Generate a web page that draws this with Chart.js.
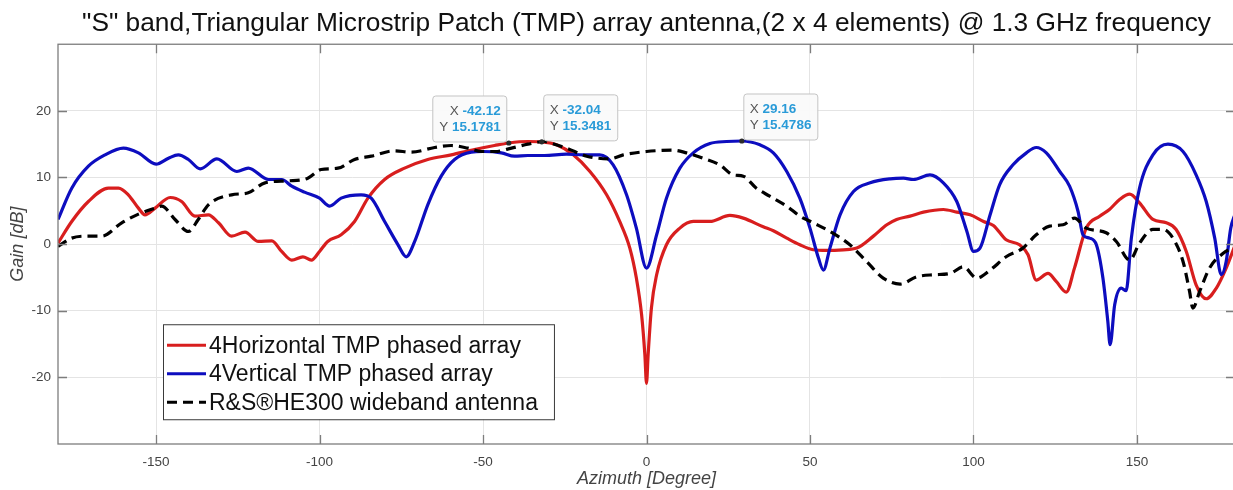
<!DOCTYPE html>
<html>
<head>
<meta charset="utf-8">
<script src="https://cdn.jsdelivr.net/npm/chart.js@4.4.1/dist/chart.umd.min.js"></script>
<style>
  html, body { margin: 0; padding: 0; background: #fff; overflow: hidden; }
  #wrap { width: 1240px; height: 490px; }
</style>
</head>
<body>
<div id="wrap"><canvas id="gain"></canvas></div>
<script>
// azimuth / gain, one pair of arrays per antenna
const hAz = [-180, -175.8, -170.7, -164.6, -161.5, -158.5, -155.4, -153.4, -150.3, -145.7, -142.2, -138.1, -134,
    -130.9, -126.9, -122.8, -118.7, -114.6, -111.6, -108.5, -105.1, -102.5, -100, -97.5, -93.4, -89.3, -85.2, -80.1,
    -74, -66.9, -59.7, -52.6, -46.5, -42.12, -36.3, -32.04, -27.5, -22.4, -17.3, -12.2, -8.2, -5.1, -3.1, -1.5, -0.5,
    0, 0.5, 1.5, 3.1, 6.1, 10.2, 14.3, 19.4, 25.5, 29.6, 35.7, 38.8, 42.9, 46.9, 51, 55.1, 60.2, 64.3, 69.4, 73.5,
    76.5, 80.6, 84.7, 90.8, 94.9, 99, 103.1, 106.1, 110, 114.1, 116.7, 119.2, 122.8, 125.3, 128.4, 130.9, 134.5,
    138.6, 141.6, 144.7, 147.8, 150.8, 154.9, 159, 162, 165.1, 168.1, 171.2, 174.3, 177.3, 180];
const hGain = [0.15, 3.4, 6.4, 8.4, 8.4, 7.4, 5.4, 4.4, 5.4, 7.0, 6.4, 4.2, 4.4,
    3.2, 1.2, 1.8, 0.4, 0.5, -1.1, -2.4, -1.9, -2.4, -1.1, 0.4, 1.4, 3.4, 6.9, 9.7,
    11.4, 12.7, 13.4, 14.2, 14.8, 15.18, 15.4, 15.35, 14.9, 13.4, 10.9, 7.4, 3.4, -0.6, -5.1, -10.6, -16.6,
    -20.9, -16.6, -9.6, -4.6, -0.1, 2.4, 3.4, 3.4, 4.3, 3.9, 2.6, 2.0, 0.9, -0.1, -0.85, -0.95, -0.85, -0.6, 1.2, 2.9,
    3.7, 4.2, 4.8, 5.2, 4.8, 4.4, 3.4, 2.8, 0.65, -0.1, -1.6, -5.4, -4.4, -5.6, -7.2, -3.6, 2.4,
    4.2, 5.2, 6.7, 7.5, 6.2, 3.7, 3.2, 2.2, -1.1, -6.1, -8.2, -6.6, -3.6, -0.2];

const vAz = [-180, -175.8, -170.7, -165.6, -160, -155.4, -150, -146.2, -143.2, -140.1, -136.5, -131.4, -125.3,
    -121.8, -115.6, -111.6, -108.5, -104.6, -100, -96.9, -93.4, -87.3, -84.2, -80.1, -76, -73.5, -70.9, -66.9,
    -62.8, -58.7, -53.6, -50, -44.4, -40.4, -36.3, -31.2, -24.5, -19.4, -14.3, -10.2, -6.1, -3.1, 0, 3.1, 6.1,
    10.2, 14.3, 19.4, 24.5, 29.16, 34.7, 38.8, 42.9, 46.9, 50, 52.6, 54.1, 56.1, 59.2, 63.3, 68.4, 74.5, 78.6,
    81.6, 86.7, 90.8, 94.9, 98, 100, 102, 105.1, 108, 112.1, 116.2, 119.2, 122.3, 126.4, 129.4, 132, 133.5,
    135.5, 137.6, 139.6, 141.1, 141.8, 143.2, 145.2, 146.7, 148.3, 150.8, 154.9, 159.5, 164.1, 168.1, 171.2,
    173.8, 175.8, 177.3, 178.7, 180];
const vGain = [3.7, 8.4, 11.7, 13.4, 14.4, 13.7, 12.0, 12.9, 13.4, 12.7, 11.3, 12.8, 10.9,
    11.4, 9.7, 9.7, 8.7, 7.8, 6.9, 5.7, 6.9, 7.4, 6.9, 3.4, -0.1, -1.9, 0.4, 5.9,
    10.2, 12.7, 13.8, 13.9, 13.7, 13.2, 13.3, 13.3, 13.5, 13.4, 13.4, 11.9, 7.4, 2.4, -3.6, 1.4, 6.9,
    11.4, 13.7, 15.1, 15.4, 15.48, 14.9, 13.7, 10.9, 6.9, 2.4, -2.1, -3.9, -0.6, 4.4, 7.9, 9.2, 9.8, 9.9,
    9.7, 10.4, 9.2, 6.4, 1.9, -1.1, -0.6, 4.4, 8.9, 11.9, 13.7, 14.5, 13.7, 10.9, 8.7, 4.9, 1.4,
    0.9, -0.1, -5.1, -11.6, -15.1, -9.1, -6.6, -7.0, 0.9, 8.4, 13.4, 15.0, 13.9, 10.4, 6.4,
    0.9, -4.6, -2.6, 2.4, 4.5];

const rAz = [-180, -175.8, -170.7, -166.6, -160.5, -155.4, -150.3, -148.3, -144.2, -140.1, -137.1, -134, -126.9,
    -121.8, -116.7, -109.5, -103.6, -99.5, -94.4, -89.3, -84.2, -77.1, -72, -64.8, -59.7, -54.6, -50.5, -46.4,
    -41.3, -36.3, -31.2, -29.6, -24.5, -18.3, -11.2, -7.1, 0, 8.2, 12.2, 17.3, 22.4, 26.5, 29.6, 33.6, 37.7,
    42.9, 46.9, 51, 56.1, 62.2, 67.3, 72.4, 77.6, 82.7, 87.8, 92.9, 96.9, 101, 105.1, 110, 115.1, 119.2, 123.3,
    127.4, 130.9, 134.5, 140.6, 143.7, 147.8, 150.8, 154.9, 158, 161, 164.1, 166.1, 167.1, 169.2, 172.2, 176.3, 180];
const rGain = [-0.35, 0.9, 1.2, 1.2, 3.2, 4.5, 5.4, 5.7, 3.7, 1.9, 3.7, 5.9, 7.4,
    7.7, 9.2, 9.5, 9.9, 11.2, 11.4, 12.7, 13.2, 14.0, 13.8, 14.5, 14.8, 14.4, 13.9, 13.9,
    14.4, 15.0, 15.4, 15.2, 14.4, 13.2, 12.8, 13.4, 13.9, 14.1, 13.7, 12.9, 11.9, 10.4, 10.2, 8.4, 7.2,
    5.7, 4.2, 3.2, 1.9, -0.1, -2.6, -5.1, -6.0, -4.9, -4.6, -4.4, -3.4, -5.1, -3.9, -1.9, -0.6, 1.4, 2.7,
    2.9, 3.9, 2.4, 1.7, 0.4, -2.4, 0.15, 2.2, 2.2, 0.9, -2.6, -7.1, -9.6, -7.1, -3.6, -1.4, -0.4];

const seriesNames = ['4Horizontal TMP phased array', '4Vertical TMP phased array', 'R&S\u00aeHE300 wideband antenna'];

const xTicks = [-150, -100, -50, 0, 50, 100, 150];
const yTicks = [-20, -10, 0, 10, 20];

// data tips shown on the figure
const tipX = [-42.12, -32.04, 29.16];
const tipY = [15.1781, 15.3481, 15.4786];

const FONT = "'Liberation Sans', Arial, Helvetica, sans-serif";

const toPoints = (xs, ys) => xs.map((x, i) => ({ x, y: ys[i] }));

// box round the axes with inward ticks, MATLAB style
const axesFrame = {
    id: 'axesFrame',
    afterDatasetsDraw(chart) {
        const { ctx, chartArea: { left, top, right, bottom }, scales: { x, y } } = chart;
        ctx.save();
        ctx.strokeStyle = '#7d7d7d';
        ctx.lineWidth = 1.3;
        ctx.strokeRect(left, top, right - left, bottom - top);
        ctx.beginPath();
        xTicks.forEach(v => {
            const px = Math.round(x.getPixelForValue(v)) + 0.5;
            ctx.moveTo(px, bottom); ctx.lineTo(px, bottom - 9);
            ctx.moveTo(px, top); ctx.lineTo(px, top + 9);
        });
        yTicks.forEach(v => {
            const py = Math.round(y.getPixelForValue(v)) + 0.5;
            ctx.moveTo(left, py); ctx.lineTo(left + 9, py);
            ctx.moveTo(right, py); ctx.lineTo(right - 9, py);
        });
        ctx.stroke();
        ctx.restore();
    }
};

const dataTips = {
    id: 'dataTips',
    afterDraw(chart, args, opts) {
        const { ctx, scales: { x, y } } = chart;
        ctx.save();
        tipX.forEach((tx, i) => {
            const px = x.getPixelForValue(tx);
            const py = y.getPixelForValue(tipY[i]);
            const w = 74, h = 46;
            const bx = opts.sides[i] === 'left' ? px - w - 2 : px + 2;
            const by = py - h - 1;

            ctx.beginPath();
            ctx.roundRect(bx, by, w, h, 3);
            ctx.fillStyle = 'rgba(250,250,250,0.96)';
            ctx.fill();
            ctx.strokeStyle = '#c4c4c4';
            ctx.lineWidth = 1;
            ctx.stroke();

            const rows = [['X ', String(tx)], ['Y ', String(tipY[i])]];
            ctx.textBaseline = 'middle';
            rows.forEach(([k, v], r) => {
                const ty = by + 15.5 + r * 16;
                ctx.font = `13.5px ${FONT}`;
                const kw = ctx.measureText(k).width;
                ctx.font = `bold 13.5px ${FONT}`;
                const vw = ctx.measureText(v).width;
                const sx = opts.sides[i] === 'left' ? bx + w - 6 - kw - vw : bx + 6;
                ctx.font = `13.5px ${FONT}`;
                ctx.fillStyle = '#555';
                ctx.fillText(k, sx, ty);
                ctx.font = `bold 13.5px ${FONT}`;
                ctx.fillStyle = '#2a9bd8';
                ctx.fillText(v, sx + kw, ty);
            });

            ctx.beginPath();
            ctx.arc(px, py, 2.6, 0, Math.PI * 2);
            ctx.fillStyle = '#2b2b2b';
            ctx.fill();
        });
        ctx.restore();
    }
};

// legend box inside the axes, lower left
const boxLegend = {
    id: 'boxLegend',
    afterDraw(chart) {
        const { ctx, chartArea: { left, top } } = chart;
        const bx = left + 105, by = top + 280, bh = 95;
        ctx.save();
        ctx.font = `23px ${FONT}`;
        const tw = Math.max(...seriesNames.map(t => ctx.measureText(t).width));
        const bw = 46 + tw + 16;
        ctx.fillStyle = '#fff';
        ctx.fillRect(bx, by, bw, bh);
        ctx.strokeStyle = '#3a3a3a';
        ctx.lineWidth = 1;
        ctx.strokeRect(bx + 0.5, by + 0.5, bw, bh);
        chart.data.datasets.forEach((ds, i) => {
            const ly = by + 21 + i * 28.5;
            ctx.beginPath();
            ctx.strokeStyle = ds.borderColor;
            ctx.lineWidth = 3;
            ctx.setLineDash(ds.borderDash || []);
            ctx.moveTo(bx + 4, ly);
            ctx.lineTo(bx + 43, ly);
            ctx.stroke();
            ctx.setLineDash([]);
            ctx.fillStyle = '#111';
            ctx.textBaseline = 'middle';
            ctx.fillText(ds.label, bx + 46, ly + 1);
        });
        ctx.restore();
    }
};

new Chart(document.getElementById('gain'), {
    type: 'line',
    plugins: [axesFrame, dataTips, boxLegend],
    data: {
        datasets: [
            {
                label: seriesNames[0],
                data: toPoints(hAz, hGain),
                borderColor: '#d81e1e',
                order: 3
            },
            {
                label: seriesNames[1],
                data: toPoints(vAz, vGain),
                borderColor: '#0d0dbf',
                order: 2
            },
            {
                label: seriesNames[2],
                data: toPoints(rAz, rGain),
                borderColor: '#000',
                borderDash: [10, 6],
                order: 1
            }
        ]
    },
    options: {
        responsive: true,
        maintainAspectRatio: false,
        animation: false,
        devicePixelRatio: 1,
        layout: { padding: { left: 0, right: 5, top: 0, bottom: 0 } },
        elements: {
            point: { radius: 0 },
            line: { borderWidth: 3.2, cubicInterpolationMode: 'monotone', fill: false }
        },
        plugins: {
            legend: { display: false },
            tooltip: { enabled: false },
            title: {
                display: true,
                fullSize: false,
                text: '"S" band,Triangular Microstrip Patch (TMP) array antenna,(2 x 4 elements) @ 1.3 GHz frequency',
                color: '#111',
                font: { family: FONT, size: 26.3, weight: 'normal', lineHeight: 1.15 },
                padding: { top: 9, bottom: 5 }
            },
            dataTips: { sides: ['left', 'right', 'right'] }
        },
        scales: {
            x: {
                type: 'linear',
                min: -180,
                max: 180,
                afterBuildTicks: s => { s.ticks = xTicks.map(v => ({ value: v })); },
                afterFit: s => { s.height = 46; },
                grid: { color: '#e4e4e4', drawTicks: false },
                border: { display: false },
                ticks: {
                    color: '#444',
                    font: { family: FONT, size: 13.5 },
                    padding: 10,
                    maxRotation: 0,
                    autoSkip: false
                },
                title: {
                    display: true,
                    text: 'Azimuth [Degree]',
                    color: '#444',
                    font: { family: FONT, size: 18, style: 'italic' },
                    padding: 0
                }
            },
            y: {
                min: -30,
                max: 30,
                afterBuildTicks: s => { s.ticks = yTicks.map(v => ({ value: v })); },
                afterFit: s => { s.width = 58; },
                grid: { color: '#e4e4e4', drawTicks: false },
                border: { display: false },
                ticks: {
                    color: '#444',
                    font: { family: FONT, size: 13.5 },
                    padding: 7
                },
                title: {
                    display: true,
                    text: 'Gain [dB]',
                    color: '#444',
                    font: { family: FONT, size: 18, style: 'italic' },
                    padding: { top: 7, bottom: 0 }
                }
            }
        }
    }
});
</script>
</body>
</html>
